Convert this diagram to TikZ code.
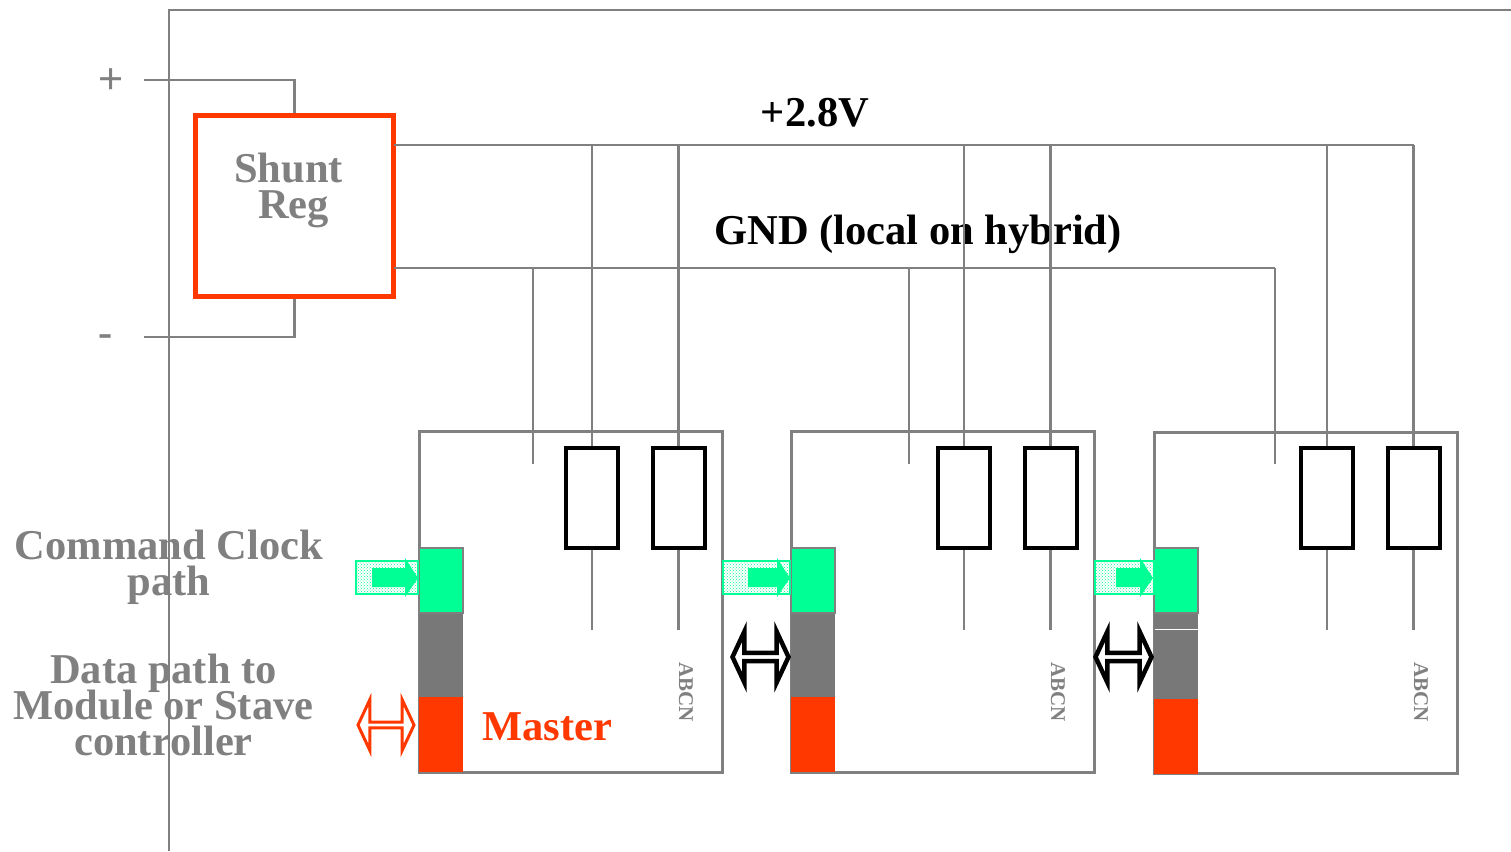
\documentclass[tikz,border=0pt]{standalone}
\usepackage{fontspec}
\setmainfont{Liberation Serif}
\newfontfamily\plusfont{Liberation Sans}
\usepackage{xcolor}
\usetikzlibrary{shapes.arrows, patterns}
\definecolor{wiregrey}{RGB}{128,128,128}
\definecolor{blockgrey}{RGB}{120,120,120}
\definecolor{shuntred}{RGB}{255,56,0}
\definecolor{clockgreen}{RGB}{0,255,148}
\lineskiplimit=-100pt
\tikzset{
  wire/.style={draw=wiregrey, line width=2.8pt},
  label/.style={font=\fontsize{42.5}{36}\selectfont\bfseries, text=wiregrey, align=center, inner sep=0pt},
  module/.style={draw=wiregrey, line width=2.6pt, fill=white, minimum width=303pt, minimum height=341pt, inner sep=0pt},
  resistor/.style={draw=black, line width=4pt, fill=white, minimum width=52pt, minimum height=100pt, inner sep=0pt},
  cell/.style={minimum width=44pt, inner sep=0pt, outer sep=0pt},
  feed/.style={draw=clockgreen, line width=2pt, pattern=crosshatch dots, pattern color=clockgreen, minimum height=33pt, inner sep=0pt},
  linkarrow/.style={double arrow, draw=#1, fill=white, line width=4.5pt, minimum height=56pt, minimum width=51pt, double arrow head extend=12pt, double arrow tip angle=130, inner sep=0pt},
}
\begin{document}
\begin{tikzpicture}[x=1pt, y=-1pt]
        \useasboundingbox (0,0) rectangle (1511,851);
        % frame
        \coordinate (topright) at (1511,10);
        \coordinate (frametop) at (169,10);
        \coordinate (framebot) at (169,851);
        \draw[wire] (topright) -- (frametop) -- (framebot);
%
        \node[draw=shuntred, line width=5pt, fill=none, minimum width=198pt, minimum height=181pt, inner sep=0pt] (shunt) at (294.5,206) {};
        \node[label] (shunttext) at (288.5,190) {Shunt\\\hspace*{10pt}Reg};
        \node[label, font=\fontsize{43}{43}\selectfont\plusfont] (plus) at (111,81) {+};
        \node[label] (minus) at (106,341) {-};
        \coordinate (pluspin) at (144,80);
        \coordinate (minuspin) at (144,337);
        \draw[wire] (pluspin) -| (shunt.north);
        \draw[wire] (minuspin) -| (shunt.south);
%
        \node[label, text=black] (vlabel) at (815,113) {+2.8V};
        \node[label, text=black] (gndlabel) at (918,234) {GND (local on hybrid)};
        \coordinate (vstart) at (394,145);
        \coordinate (vend) at (1414,145);
        \coordinate (gstart) at (394,268);
        \coordinate (gend) at (1275,268);
%
        \foreach \n/\x/\y/\g/\rt in {A/418/430/115/697, B/790/430/119/697, C/1153/431/122/699} {
            \node[module, anchor=north west] (mod\n) at (\x,\y) {};
            \node[resistor] (ra\n) at (\x+174,498) {};
            \node[resistor] (rb\n) at (\x+260.5,498) {};
            \coordinate (ga\n) at (\x+\g,464);
            \coordinate (ea\n) at (\x+174,630);
            \coordinate (eb\n) at (\x+260.5,630);
            \draw[wire] (ra\n.north |- vstart) -- (ra\n.north);
            \draw[wire] (rb\n.north |- vstart) -- (rb\n.north);
            \draw[wire] (ga\n |- gstart) -- (ga\n);
            \draw[wire] (ra\n.south) -- (ea\n);
            \draw[wire] (rb\n.south) -- (eb\n);
            \node[cell, fill=blockgrey, anchor=north west, minimum height=90pt] (grey\n) at (\x+1,613) {};
            \node[cell, fill=shuntred, anchor=north west, minimum height=75pt] (red\n) at (\x+1,\rt) {};
            \node[cell, fill=clockgreen, draw=wiregrey, line width=2.6pt, anchor=north west, minimum height=65pt] (green\n) at (\x+1,548) {};
            \node[rotate=-90, font=\fontsize{21}{21}\selectfont\bfseries, text=wiregrey, inner sep=0pt] (abcn\n) at (\x+268,692) {ABCN};
        }
        \draw[wire] (vstart) -- (vend);
        \draw[wire] (gstart) -- (gend);
%
        \node[feed, minimum width=62pt] (feedA) at (387,577.5) {};
        \node[feed, minimum width=67pt] (feedB) at (756.5,577.5) {};
        \node[feed, minimum width=59pt] (feedC) at (1124.5,577.5) {};
        \foreach \s/\t in {372/418, 748/790, 1116/1153} {
            \fill[clockgreen] (\s,568) -- (\t-13,568) -- (\t-13,558) -- (\t,578) -- (\t-13,597) -- (\t-13,587) -- (\s,587) -- cycle;
        }
        \node[linkarrow=shuntred, line width=3pt] (linkA) at (386,725) {};
        \node[linkarrow=black] (linkB) at (760.5,657) {};
        \node[linkarrow=black] (linkC) at (1123.5,657) {};
        \coordinate (gapl) at (1155,629);
        \coordinate (gapr) at (1198,629);
        \draw[white, line width=1pt] (gapl) -- (gapr);
%
        \node[label] (cmdlabel) at (169,567) {Command Clock\\path};
        \node[label] (datalabel) at (163.5,705) {Data path to\\Module or Stave\\controller};
        \node[label, text=shuntred] (master) at (547,727) {Master};
\end{tikzpicture}
\end{document}
